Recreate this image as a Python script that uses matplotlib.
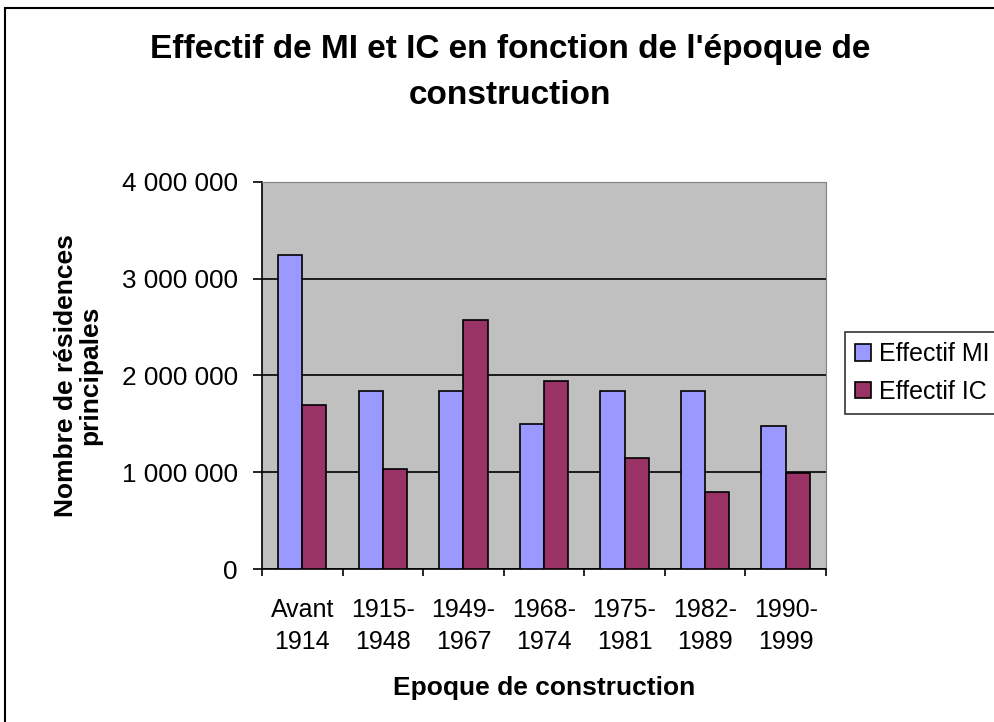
import matplotlib
matplotlib.use('Agg')
from matplotlib import pyplot as plt
from matplotlib.patches import Rectangle
from matplotlib.ticker import FuncFormatter, FixedLocator
import numpy as np

# Data
categories = ['Avant\n1914', '1915-\n1948', '1949-\n1967', '1968-\n1974',
              '1975-\n1981', '1982-\n1989', '1990-\n1999']
effectif_mi = [3250000, 1840000, 1840000, 1495000, 1840000, 1840000, 1480000]
effectif_ic = [1690000, 1030000, 2570000, 1940000, 1150000, 800000, 990000]

plt.rcParams['font.family'] = ['Liberation Sans', 'DejaVu Sans']

fig = plt.figure(figsize=(9.95, 7.22), dpi=100)
ax = fig.add_axes([0.2633, 0.2119, 0.5668, 0.5361])

x = np.arange(len(categories))
w = 0.3
ax.bar(x - w / 2, effectif_mi, width=w, color='#9999FF', edgecolor='black',
       linewidth=1.2, label='Effectif MI', zorder=3)
ax.bar(x + w / 2, effectif_ic, width=w, color='#993366', edgecolor='black',
       linewidth=1.2, label='Effectif IC', zorder=3)

ax.set_facecolor('#C0C0C0')
ax.set_xlim(-0.5, len(categories) - 0.5)
ax.set_ylim(0, 4000000)
ax.set_yticks([0, 1000000, 2000000, 3000000, 4000000])
ax.yaxis.set_major_formatter(FuncFormatter(lambda v, p: f'{int(v):,}'.replace(',', ' ')))
ax.grid(axis='y', color='black', linewidth=1.2, zorder=1)

ax.set_xticks(x)
ax.set_xticklabels(categories, fontsize=18, linespacing=1.42)
ax.xaxis.set_minor_locator(FixedLocator(np.arange(-0.5, len(categories), 1)))
ax.tick_params(axis='x', which='major', length=0, pad=21)
ax.tick_params(axis='x', which='minor', length=5, width=1.2, direction='out')
ax.tick_params(axis='y', length=6.5, width=1.2, labelsize=18.8, pad=11)

for s in ['top', 'right']:
    ax.spines[s].set_color('#808080')
for s in ['left', 'bottom']:
    ax.spines[s].set_color('black')
    ax.spines[s].set_linewidth(1.2)

ax.set_xlabel('Epoque de construction', fontsize=19, fontweight='bold', labelpad=16)
ax.set_ylabel('Nombre de résidences\nprincipales', fontsize=19, fontweight='bold',
              labelpad=14, linespacing=1.0)

fig.text(0.513, 0.899, "Effectif de MI et IC en fonction de l'époque de\nconstruction",
         ha='center', va='center', fontsize=24, fontweight='bold', linespacing=1.62)

leg = ax.legend(loc='upper left', bbox_to_anchor=(845 / 995, 1 - 332 / 722),
                bbox_transform=fig.transFigure, fontsize=18, frameon=True,
                fancybox=False, edgecolor='black', handlelength=0.65,
                handleheight=0.65, borderaxespad=0, borderpad=0.4, labelspacing=0.55,
                handletextpad=0.3)
leg.get_frame().set_linewidth(1.2)

fig.patches.append(Rectangle((0.005, -0.1), 1.2, 0.1 + 1 - 8 / 722,
                             transform=fig.transFigure, fill=False,
                             edgecolor='black', linewidth=1.5))

fig.savefig('out.png', dpi=100)
